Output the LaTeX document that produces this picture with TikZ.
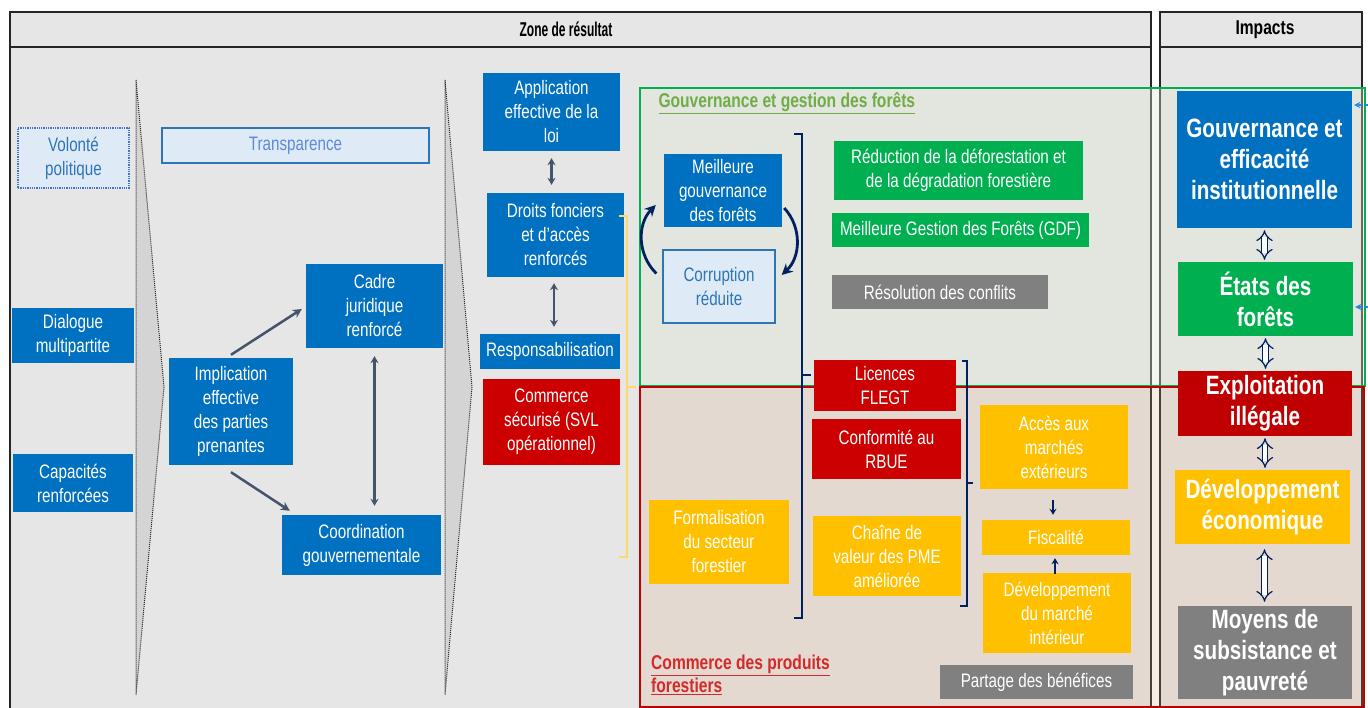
\documentclass[tikz,border=0pt]{standalone}
\usepackage{fontspec}
\setmainfont{Liberation Sans}[FakeStretch=0.78]
\newfontfamily\headfont{Liberation Sans}[FakeStretch=0.6]
\usetikzlibrary{arrows.meta}

\definecolor{panelgray}{HTML}{E6E6E6}
\definecolor{chevgray}{HTML}{D4D4D4}
\definecolor{boxblue}{HTML}{0070C0}
\definecolor{paleblue}{HTML}{DEEBF7}
\definecolor{edgeblue}{HTML}{2E75B6}
\definecolor{softblue}{HTML}{5F8AD6}
\definecolor{dotblue}{HTML}{4472C4}
\definecolor{boxgreen}{HTML}{00B050}
\definecolor{titlegreen}{HTML}{70AD47}
\definecolor{boxred}{HTML}{CC0000}
\definecolor{deepred}{HTML}{C00000}
\definecolor{titlered}{HTML}{D42A2A}
\definecolor{boxyellow}{HTML}{FFC000}
\definecolor{paleyellow}{HTML}{FFD966}
\definecolor{boxgray}{HTML}{808080}
\definecolor{slate}{HTML}{44546A}
\definecolor{navy}{HTML}{002060}
\definecolor{inblue}{HTML}{1E88E5}
\definecolor{greentint}{RGB}{219,230,211}
\definecolor{redtint}{RGB}{215,165,125}

\begin{document}
\begin{tikzpicture}[x=1pt, y=-1pt,
    panel/.style={fill=panelgray, draw=black!85, line width=1.3pt},
    chevron/.style={fill=chevgray, draw=black!85, densely dotted, line width=1pt},
    box/.style={rectangle, inner sep=0pt, align=center, text=white,
      font=\fontsize{19.5}{24}\selectfont},
    bluebox/.style={box, fill=boxblue},
    greenbox/.style={box, fill=boxgreen},
    redbox/.style={box, fill=boxred},
    yellowbox/.style={box, fill=boxyellow},
    graybox/.style={box, fill=boxgray},
    palebox/.style={box, fill=paleblue, draw=edgeblue, line width=1.3pt, text=edgeblue},
    impact/.style={box, font=\bfseries\fontsize{26.5}{31}\selectfont},
    headtext/.style={font=\bfseries\fontsize{20}{22}\selectfont},
    link/.style={draw=slate, line width=2.5pt, -{Stealth[length=9pt,width=9pt]}},
    twoway/.style={draw=slate, line width=2.5pt,
      {Stealth[length=7pt,width=8pt]}-{Stealth[length=7pt,width=8pt]}},
    loopbend/.style={draw=navy, line width=2.8pt, -{Stealth[length=11pt,width=11pt]}},
    smallarr/.style={draw=navy, line width=2pt, -{Stealth[length=6pt,width=7pt]}},
    hollow/.style={draw=navy, line width=1.2pt, double=white, double distance=4.5pt,
      {Implies}-{Implies}},
    brk/.style={draw=navy, line width=1.2pt},
    inarr/.style={draw=inblue, line width=1.5pt, dashed, -{Stealth[length=6pt,width=6pt]}}]
  \useasboundingbox (0,0) rectangle (1368,708);

  % panels
  \draw[panel] (10,12) rectangle (1151,47);
  \draw[panel] (10,47) rectangle (1151,712);
  \draw[panel] (1160,12) rectangle (1362,47);
  \draw[panel] (1160,47) rectangle (1362,712);
  \node[headtext, font=\headfont\bfseries\fontsize{20}{22}\selectfont] (zonehead) at (566,29.5) {Zone de résultat};
  \node[headtext] (imphead) at (1265,29.5) {Impacts};

  % chevrons
  \draw[chevron] (136,80) -- (164,387) -- (136,695) -- cycle;
  \draw[chevron] (445,80) -- (472,387) -- (445,695) -- cycle;

  % zones
  \draw[fill=greentint, fill opacity=0.36, draw=boxgreen, line width=2.5pt] (640,88) rectangle (1365,386);
  \draw[fill=redtint, fill opacity=0.2, draw=deepred, line width=2.5pt] (640,387) rectangle (1364,707);
  \node[anchor=west, text=titlegreen, font=\bfseries\fontsize{20}{23}\selectfont] (govlabel)
    at (655,103) {\underline{Gouvernance et gestion des forêts}};
  \node[anchor=north west, align=left, inner sep=0pt, text=titlered,
    font=\bfseries\fontsize{20}{23}\selectfont] (tradelabel)
    at (651,655) {\underline{Commerce des produits}\\\underline{forestiers}};

  % inputs
  \node[palebox, text=edgeblue, draw=dotblue, densely dotted, line width=1.6pt,
    minimum width=111pt, minimum height=60pt] (vol) at (73.5,158) {Volonté\\politique};
  \node[bluebox, minimum width=122pt, minimum height=55pt] (dial) at (73,335.5) {Dialogue\\multipartite};
  \node[bluebox, minimum width=120pt, minimum height=58pt] (capa) at (73,483) {Capacités\\renforcées};

  % first stage
  \node[palebox, text=softblue, minimum width=267pt, minimum height=35pt] (transp) at (295.5,145.5) {Transparence};
  \node[bluebox, minimum width=124pt, minimum height=107pt] (impl) at (231,411.5) {Implication\\effective\\des parties\\prenantes};
  \node[bluebox, minimum width=137pt, minimum height=84pt] (cadre) at (374.5,306) {Cadre\\juridique\\renforcé};
  \node[bluebox, minimum width=159pt, minimum height=60pt] (coord) at (361.5,545) {Coordination\\gouvernementale};

  % second stage
  \node[bluebox, minimum width=137pt, minimum height=78pt] (appl) at (551.5,112) {Application\\effective de la\\loi};
  \node[bluebox, minimum width=137pt, minimum height=84pt] (droits) at (555.5,235) {Droits fonciers\\et d’accès\\renforcés};
  \node[bluebox, minimum width=140pt, minimum height=35pt] (resp) at (550,351.5) {Responsabilisation};
  \node[redbox, minimum width=137pt, minimum height=86pt] (comsec) at (551.5,422) {Commerce\\sécurisé (SVL\\opérationnel)};

  % governance zone
  \node[bluebox, minimum width=118pt, minimum height=73pt] (mgouv) at (723,190.5) {Meilleure\\gouvernance\\des forêts};
  \node[palebox, minimum width=112pt, minimum height=73pt] (corr) at (719,286.5) {Corruption\\réduite};
  \node[greenbox, minimum width=249pt, minimum height=59pt] (reduc) at (958.5,170.5) {Réduction de la déforestation et\\de la dégradation forestière};
  \node[greenbox, minimum width=257pt, minimum height=34pt] (gdf) at (960.5,230) {Meilleure Gestion des Forêts (GDF)};
  \node[graybox, minimum width=216pt, minimum height=34pt] (conflits) at (940,292) {Résolution des conflits};

  % trade zone
  \node[redbox, minimum width=142pt, minimum height=51pt] (flegt) at (885,385.5) {Licences\\FLEGT};
  \node[redbox, minimum width=149pt, minimum height=60pt] (rbue) at (886.5,449) {Conformité au\\RBUE};
  \node[yellowbox, minimum width=148pt, minimum height=80pt] (pme) at (887,556) {Chaîne de\\valeur des PME\\améliorée};
  \node[yellowbox, minimum width=140pt, minimum height=84pt] (formal) at (719,542) {Formalisation\\du secteur\\forestier};
  \node[yellowbox, minimum width=148pt, minimum height=84pt] (acces) at (1054,447) {Accès aux\\marchés\\extérieurs};
  \node[yellowbox, minimum width=148pt, minimum height=35pt] (fisc) at (1056,537.5) {Fiscalité};
  \node[yellowbox, minimum width=148pt, minimum height=80pt] (devint) at (1057,613) {Développement\\du marché\\intérieur};
  \node[graybox, minimum width=193pt, minimum height=34pt] (partage) at (1036.5,682) {Partage des bénéfices};

  % impacts
  \node[impact, fill=boxblue, minimum width=175pt, minimum height=137pt] (igouv) at (1264.5,159.5) {Gouvernance et\\efficacité\\institutionnelle};
  \node[impact, fill=boxgreen, minimum width=175pt, minimum height=74pt] (ietats) at (1265.5,299) {États des\\forêts};
  \node[impact, fill=deepred, minimum width=174pt, minimum height=65pt] (iexpl) at (1265,403.5) {Exploitation\\illégale};
  \node[impact, fill=boxyellow, minimum width=175pt, minimum height=74pt] (idev) at (1262.5,507) {Développement\\économique};
  \node[impact, fill=boxgray, minimum width=174pt, minimum height=93pt] (imoyens) at (1265,652.5) {Moyens de\\subsistance et\\pauvreté};

  % links
  \draw[link] ([yshift=3pt]impl.north) -- ([xshift=-4pt,yshift=-3pt]cadre.west);
  \draw[link] ([yshift=-7pt]impl.south) -- ([xshift=8pt,yshift=4pt]coord.north west);
  \draw[twoway] ([yshift=-8pt]cadre.south) -- ([yshift=9pt]cadre.south |- coord.north);
  \draw[twoway] ([yshift=-7pt]appl.south) -- ([yshift=8pt]appl.south |- droits.north);
  \draw[twoway] ([xshift=-1.5pt,yshift=-6pt]droits.south) -- ([xshift=-1.5pt,yshift=7pt]droits.south |- resp.north);
  \draw[loopbend] ([xshift=-6pt,yshift=13pt]corr.west) to[bend left=45] ([xshift=-8pt,yshift=-14.5pt]mgouv.west);
  \draw[loopbend] ([xshift=2pt,yshift=-17.5pt]mgouv.east) to[bend left=45] ([xshift=6pt,yshift=11.5pt]corr.east);
  \draw[smallarr] ([xshift=-1pt,yshift=-11pt]acces.south) -- ([xshift=-1pt,yshift=5pt]acces.south |- fisc.north);
  \draw[smallarr] ([xshift=-2pt,yshift=-1pt]devint.north) -- ([xshift=-2pt,yshift=-3pt]devint.north |- fisc.south);
  \draw[hollow] ([yshift=-2pt]igouv.south) -- ([yshift=2pt]igouv.south |- ietats.north);
  \draw[hollow] ([yshift=-2pt]ietats.south) -- ([yshift=2pt]ietats.south |- iexpl.north);
  \draw[hollow] ([yshift=-2pt]iexpl.south) -- ([yshift=2pt]iexpl.south |- idev.north);
  \draw[hollow] ([xshift=2pt,yshift=-5pt]idev.south) -- ([xshift=2pt,yshift=4pt]idev.south |- imoyens.north);

  % outside inputs
  \coordinate (govin) at (1368,105);
  \coordinate (forin) at (1368,307);
  \draw[inarr] (govin) -- ([xshift=2pt]govin -| igouv.east);
  \draw[inarr] (forin) -- ([xshift=2pt]forin -| ietats.east);

  % brackets
  \draw[paleyellow, line width=1.2pt] (619,216) -- (627,216) -- (627,557) -- (619,557);
  \draw[paleyellow, line width=1.2pt] (627,387) -- (636,387);
  \draw[brk] (794,134) -- (802,134) -- (802,618) -- (794,618);
  \draw[brk] (802,375) -- (811,375);
  \draw[brk] (962,361) -- (967,361) -- (967,606) -- (960,606);
  \draw[brk] (967,483) -- (973,483);
\end{tikzpicture}
\end{document}
